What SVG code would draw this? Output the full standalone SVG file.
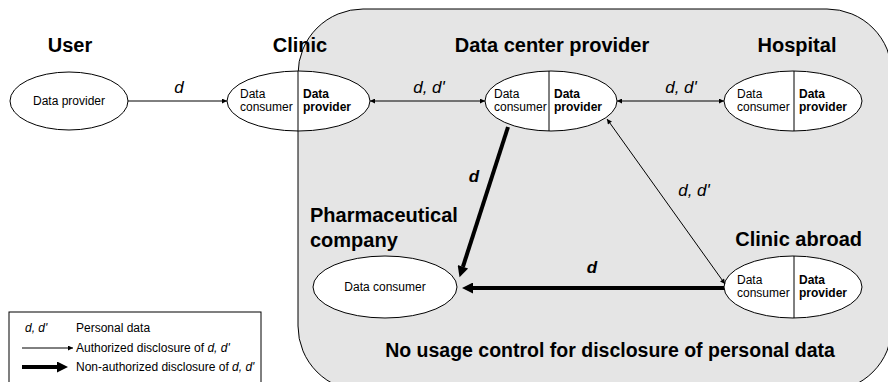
<svg xmlns="http://www.w3.org/2000/svg" width="888" height="382" viewBox="0 0 888 382">
<style>
text{font-family:"Liberation Sans",Arial,sans-serif;fill:#000}
.title{font-size:20px;font-weight:bold}
.sm{font-size:12px}
.b{font-weight:bold}
.lab{font-size:17px;font-style:italic}
.labb{font-size:17px;font-style:italic;font-weight:bold}
.node{fill:#fff;stroke:#000;stroke-width:1}
.div{stroke:#000;stroke-width:1}
.thin{stroke:#000;stroke-width:1;fill:none}
.thick{stroke:#000;stroke-width:4;fill:none}
.leg{font-size:12px}
</style>
<defs>
<marker id="ah" viewBox="0 0 10 10" refX="10" refY="5" markerWidth="8" markerHeight="5" orient="auto-start-reverse" markerUnits="userSpaceOnUse"><path d="M0,0L10,5L0,10z" fill="#000"/></marker>
<marker id="ahb" viewBox="0 0 10 10" refX="0" refY="5" markerWidth="16" markerHeight="11" orient="auto" markerUnits="userSpaceOnUse"><path d="M0,0L10,5L0,10z" fill="#000"/></marker>
</defs>
<rect id="zone" x="298" y="9" width="594" height="382" rx="65" ry="65" fill="#e5e5e5" stroke="#000" stroke-width="1"/>
<g id="titles">
<text class="title" x="70" y="52" text-anchor="middle">User</text>
<text class="title" x="300" y="52" text-anchor="middle">Clinic</text>
<text class="title" x="552" y="52" text-anchor="middle">Data center provider</text>
<text class="title" x="797" y="52" text-anchor="middle">Hospital</text>
<text class="title" x="310" y="222">Pharmaceutical</text>
<text class="title" x="310" y="247">company</text>
<text class="title" x="862" y="246" text-anchor="end">Clinic abroad</text>
<text class="title" x="610" y="357" text-anchor="middle" style="font-size:19.5px">No usage control for disclosure of personal data</text>
</g>
<g id="user">
<ellipse class="node" cx="69" cy="101" rx="59" ry="29"/>
<text class="sm" x="69" y="105" text-anchor="middle">Data provider</text>
</g>
<g id="clinic">
<ellipse class="node" cx="298.5" cy="101" rx="71.5" ry="30"/>
<line class="div" x1="298" y1="71" x2="298" y2="131"/>
<text class="sm" x="240" y="98">Data</text>
<text class="sm" x="240" y="111">consumer</text>
<text class="sm b" x="303" y="98">Data</text>
<text class="sm b" x="303" y="111">provider</text>
</g>
<g id="dcp">
<ellipse class="node" cx="551" cy="101" rx="66" ry="30"/>
<line class="div" x1="549" y1="71" x2="549" y2="131"/>
<text class="sm" x="494" y="98">Data</text>
<text class="sm" x="494" y="111">consumer</text>
<text class="sm b" x="554" y="98">Data</text>
<text class="sm b" x="554" y="111">provider</text>
</g>
<g id="hospital">
<ellipse class="node" cx="793" cy="101" rx="69" ry="30"/>
<line class="div" x1="794" y1="71" x2="794" y2="131"/>
<text class="sm" x="737" y="98">Data</text>
<text class="sm" x="737" y="111">consumer</text>
<text class="sm b" x="799" y="98">Data</text>
<text class="sm b" x="799" y="111">provider</text>
</g>
<g id="pharma">
<ellipse class="node" cx="385" cy="287" rx="72" ry="31"/>
<text class="sm" x="385" y="291" text-anchor="middle">Data consumer</text>
</g>
<g id="clinicabroad">
<ellipse class="node" cx="793" cy="287" rx="69" ry="31"/>
<line class="div" x1="794" y1="256" x2="794" y2="318"/>
<text class="sm" x="737" y="284">Data</text>
<text class="sm" x="737" y="297">consumer</text>
<text class="sm b" x="799" y="284">Data</text>
<text class="sm b" x="799" y="297">provider</text>
</g>
<g id="connectors">
<line class="thin" x1="128" y1="101" x2="227" y2="101" marker-end="url(#ah)"/>
<line class="thin" x1="370" y1="101" x2="485" y2="101" marker-start="url(#ah)" marker-end="url(#ah)"/>
<line class="thin" x1="617" y1="101" x2="724" y2="101" marker-start="url(#ah)" marker-end="url(#ah)"/>
<line class="thin" x1="607" y1="119" x2="725" y2="284" marker-start="url(#ah)" marker-end="url(#ah)"/>
<line class="thick" x1="508" y1="127" x2="462.9" y2="266.8" marker-end="url(#ahb)"/>
<line class="thick" x1="724" y1="288" x2="473" y2="288" marker-end="url(#ahb)"/>
<text class="lab" x="179" y="93" text-anchor="middle">d</text>
<text class="lab" x="429" y="93" text-anchor="middle">d, d'</text>
<text class="lab" x="681" y="93" text-anchor="middle">d, d'</text>
<text class="lab" x="694" y="196" text-anchor="middle">d, d'</text>
<text class="labb" x="474" y="182" text-anchor="middle">d</text>
<text class="labb" x="592" y="273" text-anchor="middle">d</text>
</g>
<g id="legend">
<rect x="9" y="312" width="252" height="80" fill="#fff" stroke="#000" stroke-width="1"/>
<text class="leg" x="25" y="332" font-style="italic">d, d'</text>
<text class="leg" x="76" y="332">Personal data</text>
<line class="thin" x1="22" y1="348" x2="73" y2="348" marker-end="url(#ah)"/>
<text class="leg" x="76" y="352">Authorized disclosure of <tspan font-style="italic">d, d'</tspan></text>
<line class="thick" x1="22" y1="367" x2="57" y2="367" marker-end="url(#ahb)"/>
<text class="leg" x="76" y="371">Non-authorized disclosure of <tspan font-style="italic">d, d'</tspan></text>
</g>
</svg>
